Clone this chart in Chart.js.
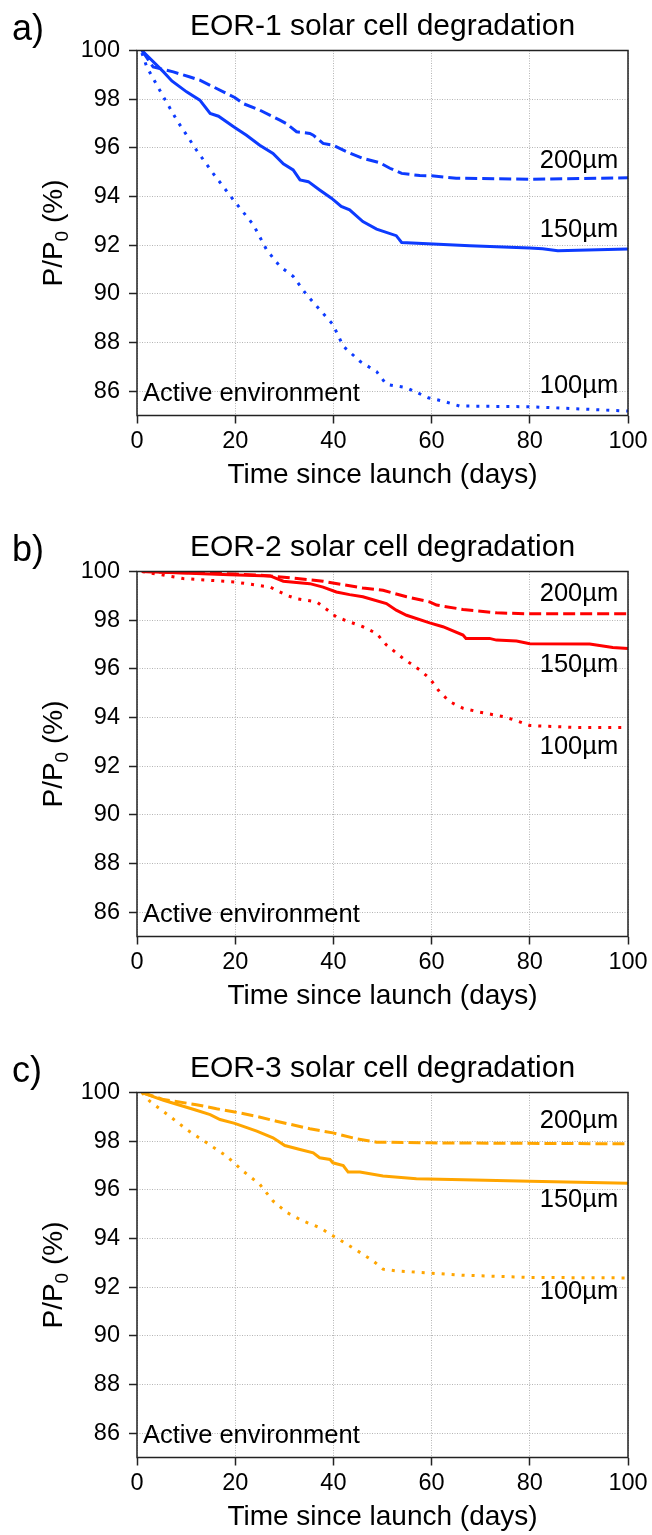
<!DOCTYPE html>
<html>
<head>
<meta charset="utf-8">
<title>EOR solar cell degradation</title>
<script src="https://cdn.jsdelivr.net/npm/chart.js@4.4.1/dist/chart.umd.min.js"></script>
<style>
  html, body { margin: 0; padding: 0; background: #fff; overflow: hidden; }
  .panel { position: absolute; left: 0; width: 652px; height: 521px; }
</style>
</head>
<body>
<div class="panel" style="top:0px"><canvas id="eor1"></canvas></div>
<div class="panel" style="top:521px"><canvas id="eor2"></canvas></div>
<div class="panel" style="top:1042px"><canvas id="eor3"></canvas></div>

<script>

// axis ticks
var dayTicks = [0, 20, 40, 60, 80, 100];
var pctTicks = [86, 88, 90, 92, 94, 96, 98, 100];
var thicknessNames = ['200µm', '150µm', '100µm'];

// EOR-1
var eor1Days200 = [1, 3.3, 7.4, 10.8, 12.8, 19.9, 21.6, 25.0, 29.1, 30.4, 32.5, 35.2, 35.9, 37.9, 39.9, 42.7, 46.0, 49.4, 51.5, 53.9, 57.6, 60, 65, 80, 100];
var eor1Pct200  = [100, 99.32, 99.12, 98.91, 98.78, 98.07, 97.82, 97.55, 97.14, 97.0, 96.66, 96.59, 96.52, 96.18, 96.11, 95.84, 95.57, 95.39, 95.16, 94.95, 94.86, 94.85, 94.75, 94.71, 94.77];
var eor1Days150 = [1, 5.4, 7.1, 10.1, 12.8, 14.9, 16.6, 19.9, 22.3, 25.0, 27.7, 29.8, 31.8, 33.2, 34.9, 37.2, 39.6, 41.6, 43.3, 46.0, 48.8, 52.8, 53.9, 67.8, 80, 82.6, 85.7, 100];
var eor1Pct150  = [100, 99.12, 98.75, 98.3, 97.96, 97.41, 97.3, 96.84, 96.52, 96.11, 95.77, 95.34, 95.09, 94.68, 94.61, 94.27, 93.93, 93.59, 93.45, 92.97, 92.66, 92.39, 92.11, 91.98, 91.88, 91.85, 91.77, 91.84];
var eor1Days100 = [1, 2.0, 5.4, 8.1, 12.1, 15.5, 19.9, 23.7, 26.4, 29.1, 31.8, 34.5, 37.2, 39.9, 42.0, 45.4, 48.8, 50.8, 54.9, 59.3, 62.3, 65.7, 80, 88.1, 100];
var eor1Pct100  = [99.9, 99.32, 98.09, 97.14, 95.91, 94.95, 93.79, 92.84, 91.81, 91.13, 90.72, 89.97, 89.35, 88.74, 87.85, 87.23, 86.8, 86.28, 86.14, 85.73, 85.59, 85.39, 85.36, 85.29, 85.18];

// EOR-2
var eor2Days200 = [1, 20, 27.1, 31.1, 37.9, 46.0, 50.1, 54.9, 59.6, 61.0, 66.4, 73.2, 80, 100];
var eor2Pct200  = [100, 99.9, 99.82, 99.74, 99.6, 99.32, 99.23, 98.96, 98.75, 98.62, 98.44, 98.3, 98.26, 98.26];
var eor2Days150 = [1, 18.9, 27.1, 29.8, 35.2, 37.9, 40.6, 43.3, 46.0, 50.8, 52.8, 54.9, 59.6, 62.3, 66.4, 67.0, 71.8, 73.2, 77.3, 80, 92.2, 96.9, 100];
var eor2Pct150  = [100, 99.87, 99.82, 99.6, 99.5, 99.36, 99.16, 99.05, 98.96, 98.68, 98.41, 98.2, 97.89, 97.73, 97.39, 97.25, 97.25, 97.18, 97.14, 97.03, 97.02, 96.88, 96.84];
var eor2Days100 = [1, 9.4, 19.9, 27.1, 30.5, 32.5, 36.6, 39.3, 40.6, 46.0, 48.8, 50.8, 54.2, 57.6, 59.6, 61.6, 63.7, 66.4, 69.8, 74.5, 77.3, 80, 89.5, 100];
var eor2Pct100  = [100, 99.71, 99.57, 99.36, 99.02, 98.88, 98.75, 98.34, 98.13, 97.73, 97.45, 96.98, 96.43, 95.95, 95.61, 95.06, 94.65, 94.38, 94.22, 94.04, 93.87, 93.67, 93.59, 93.59];

// EOR-3
var eor3Days200 = [1, 5.4, 12.1, 16.2, 19.9, 24.4, 28.4, 35.2, 39.9, 44.7, 48.8, 59.6, 100];
var eor3Pct200  = [100, 99.71, 99.5, 99.33, 99.2, 99.02, 98.82, 98.51, 98.34, 98.1, 97.96, 97.93, 97.89];
var eor3Days150 = [1, 5.4, 12.1, 14.9, 16.9, 19.9, 24.4, 27.7, 30.1, 33.2, 35.9, 37.2, 39.3, 39.9, 42.0, 43.0, 45.4, 50.1, 56.9, 66.4, 80, 100];
var eor3Pct150  = [100, 99.68, 99.27, 99.09, 98.89, 98.73, 98.41, 98.14, 97.82, 97.66, 97.52, 97.32, 97.25, 97.11, 97.0, 96.73, 96.73, 96.57, 96.46, 96.41, 96.35, 96.27];
var eor3Days100 = [1, 2.6, 6.7, 10.1, 14.2, 18.2, 21.6, 25.0, 27.7, 30.5, 33.8, 37.2, 39.9, 42.7, 45.4, 48.1, 50.1, 52.8, 59.6, 66.4, 80, 100];
var eor3Pct100  = [100, 99.64, 99.02, 98.48, 97.93, 97.39, 96.77, 96.23, 95.54, 95.07, 94.72, 94.45, 94.11, 93.77, 93.43, 93.08, 92.74, 92.67, 92.58, 92.49, 92.4, 92.38];


var FONT = '"Liberation Sans", Arial, sans-serif';
var INK = '#000';

Chart.defaults.font.family = FONT;
Chart.defaults.color = INK;

function toPoints(days, pct){
	return days.map(function(d, i){ return {x: d, y: pct[i]}; });
}

// frame, panel letter, P/P0 label and the curve annotations
var panelText = {
	id: 'panelText',
	afterDraw(chart, args, opts){
		var ctx = chart.ctx;
		var area = chart.chartArea;
		var xs = chart.scales.x, ys = chart.scales.y;

		ctx.save();

		ctx.setLineDash([]);
		ctx.lineWidth = 1.5;
		ctx.strokeStyle = '#222';
		ctx.strokeRect(area.left, area.top, area.right - area.left, area.bottom - area.top);

		ctx.fillStyle = INK;
		ctx.textBaseline = 'alphabetic';

		ctx.textAlign = 'left';
		ctx.font = '36px ' + FONT;
		ctx.fillText(opts.letter, 12, 40);

		// rotated y label with subscript
		ctx.save();
		ctx.translate(61.5, (area.top + area.bottom) / 2);
		ctx.rotate(-Math.PI / 2);
		var big = '28px ' + FONT, small = '19px ' + FONT;
		ctx.font = big;
		var wA = ctx.measureText('P/P').width;
		var wB = ctx.measureText(' (%)').width;
		ctx.font = small;
		var wS = ctx.measureText('0').width;
		var x = -(wA + wS + wB) / 2;
		ctx.font = big;
		ctx.fillText('P/P', x, 0);
		x += wA;
		ctx.font = small;
		ctx.fillText('0', x, 6);
		x += wS;
		ctx.font = big;
		ctx.fillText(' (%)', x, 0);
		ctx.restore();

		ctx.font = '25.5px ' + FONT;
		ctx.textAlign = 'right';
		thicknessNames.forEach(function(name, i){
			ctx.fillText(name, xs.getPixelForValue(98), ys.getPixelForValue(opts.labelAt[i]));
		});

		ctx.textAlign = 'left';
		ctx.fillText('Active environment', xs.getPixelForValue(1.2), ys.getPixelForValue(85.6));

		ctx.restore();
	}
};

function makeChart(id, letter, title, color, series, labelAt){

	const ctx = document.getElementById(id).getContext('2d');
	const styles = [[12, 5], [], [3, 7]];

	return new Chart(ctx, {
		type: 'line',
		data: {
			datasets: series.map(function(s, i){
				return {
					label: thicknessNames[i],
					data: toPoints(s[0], s[1]),
					borderColor: color,
					borderWidth: 3,
					borderDash: styles[i],
					borderCapStyle: 'butt',
					pointRadius: 0,
					fill: false,
					tension: 0
				};
			})
		},
		options: {
			responsive: true,
			maintainAspectRatio: false,
			animation: false,
			events: [],
			layout: { padding: { left: 0, right: 24, top: 0, bottom: 0 } },
			plugins: {
				legend: { display: false },
				tooltip: { enabled: false },
				title: {
					display: true,
					text: title,
					fullSize: false,
					color: INK,
					font: { size: 30, weight: 'normal' },
					padding: { top: 9, bottom: 5.5 }
				},
				panelText: { letter: letter, labelAt: labelAt }
			},
			scales: {
				x: {
					type: 'linear',
					min: 0,
					max: 100,
					afterBuildTicks: function(s){ s.ticks = dayTicks.map(function(v){ return {value: v}; }); },
					afterFit: function(s){ s.height = 105.5; },
					ticks: { font: { size: 23.5 }, color: INK, padding: 3.5, maxRotation: 0 },
					grid: {
						color: '#b4b4b4', lineWidth: 1,
						tickLength: 8, tickColor: '#222', tickWidth: 1.5, tickBorderDash: []
					},
					border: { display: false, dash: [1, 1.5] },
					title: {
						display: true,
						text: 'Time since launch (days)',
						color: INK,
						font: { size: 28 },
						padding: { top: 0, bottom: 29 }
					}
				},
				y: {
					min: 85,
					max: 100,
					afterBuildTicks: function(s){ s.ticks = pctTicks.map(function(v){ return {value: v}; }); },
					afterFit: function(s){ s.width = 137; },
					ticks: { font: { size: 23.5 }, color: INK, padding: 9 },
					grid: {
						color: '#b4b4b4', lineWidth: 1,
						tickLength: 8, tickColor: '#222', tickWidth: 1.5, tickBorderDash: []
					},
					border: { display: false, dash: [1, 1.5] }
				}
			}
		},
		plugins: [panelText]
	});

}

makeChart('eor1', 'a)', 'EOR-1 solar cell degradation', '#0d3bff',
	[[eor1Days200, eor1Pct200], [eor1Days150, eor1Pct150], [eor1Days100, eor1Pct100]],
	[95.16, 92.32, 85.94]);

makeChart('eor2', 'b)', 'EOR-2 solar cell degradation', '#ff0000',
	[[eor2Days200, eor2Pct200], [eor2Days150, eor2Pct150], [eor2Days100, eor2Pct100]],
	[98.78, 95.88, 92.5]);

makeChart('eor3', 'c)', 'EOR-3 solar cell degradation', '#ffa500',
	[[eor3Days200, eor3Pct200], [eor3Days150, eor3Pct150], [eor3Days100, eor3Pct100]],
	[98.55, 95.28, 91.5]);

</script>
</body>
</html>
